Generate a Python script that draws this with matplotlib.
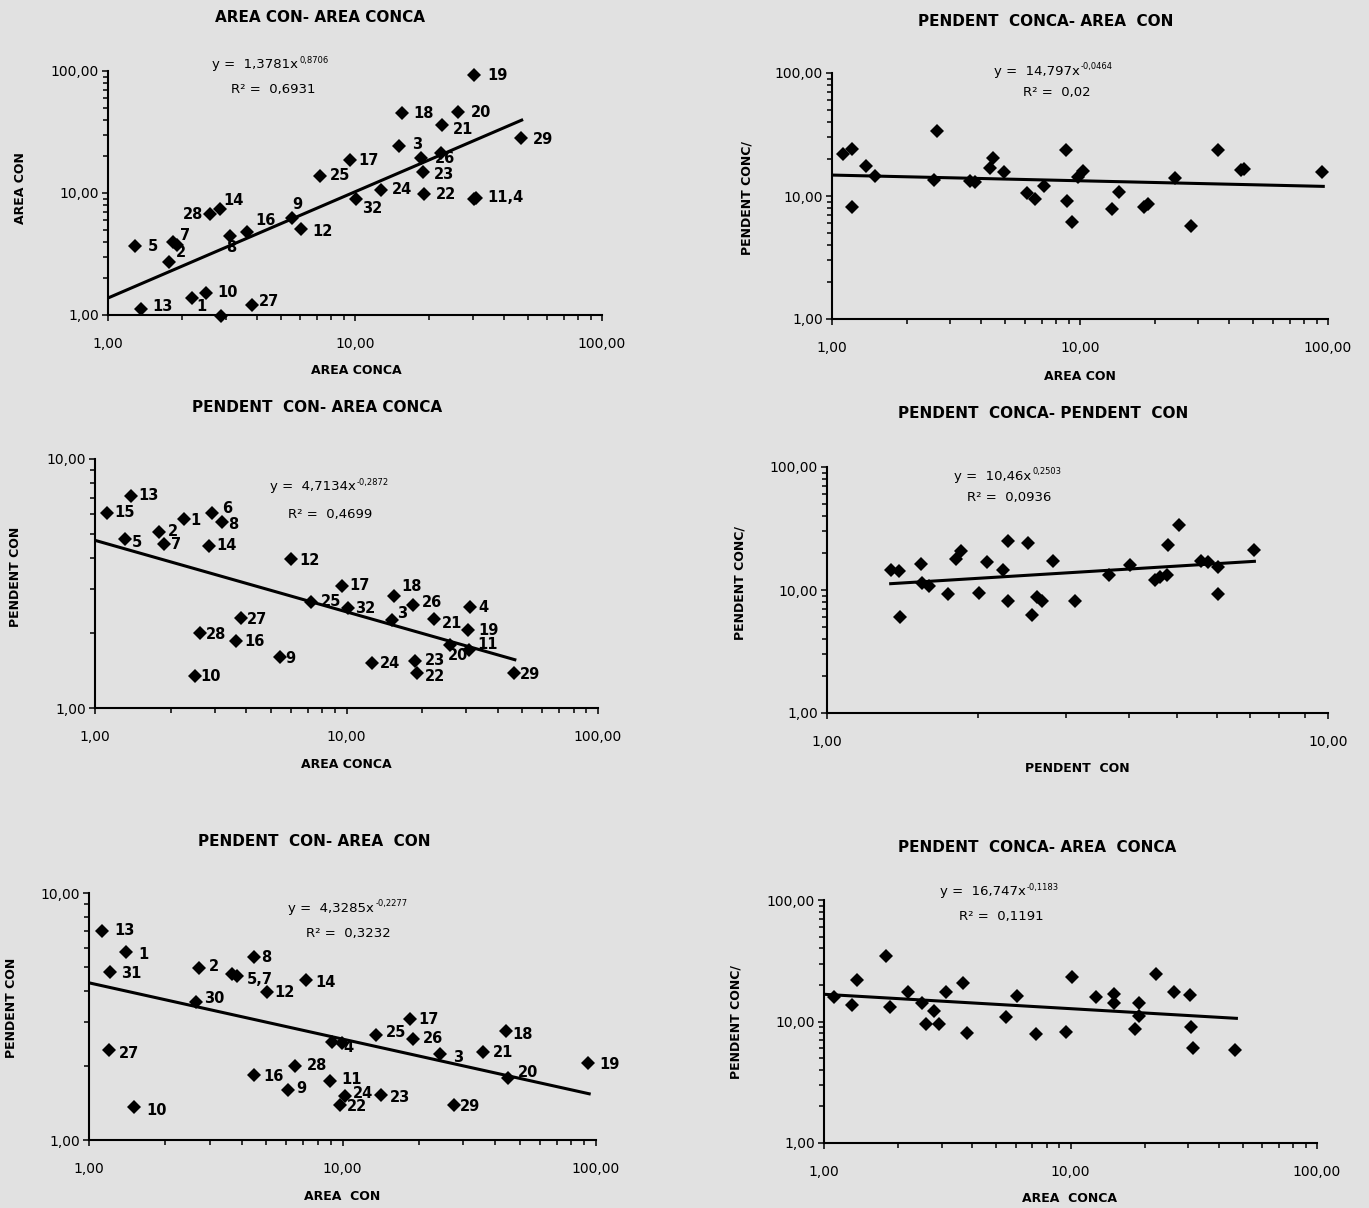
import numpy as np
import matplotlib.pyplot as plt
from matplotlib.ticker import FuncFormatter, LogLocator, NullFormatter

W, H = 1369, 1208
BG = '#e1e1e1'

# --- AREA CON vs AREA CONCA (top left) ---
tl_labels = ["19", "18", "20", "21", "3", "29", "26", "", "23", "17", "25", "24", "22",
             "11,4", "", "32", "14", "28", "9", "12", "16", "8", "5", "7", "", "2",
             "13", "1", "10", "27", ""]
tl_x = [30.4, 15.5, 26.2, 22.4, 15.1, 46.9, 18.5, 22.3, 18.9, 9.56, 7.24, 12.8, 19.1,
        30.8, 30.4, 10.05, 2.84, 2.59, 5.54, 6.04, 3.64, 3.12, 1.29, 1.84, 1.90, 1.77,
        1.36, 2.18, 2.49, 3.82, 2.88]
tl_y = [92.7, 45.0, 45.8, 36.1, 24.4, 28.1, 19.2, 21.2, 14.8, 18.6, 13.9, 10.6, 9.8,
        9.15, 8.9, 8.88, 7.35, 6.69, 6.2, 5.04, 4.76, 4.47, 3.70, 3.99, 3.75, 2.73,
        1.13, 1.39, 1.52, 1.21, 0.98]
tl_fit = (1.3781, 0.8706, 0.6931)
tl_trend = (1.0, 47.3)

# --- PENDENT CON vs AREA CONCA (middle left) ---
ml_labels = ["15", "13", "1", "6", "8", "2", "5", "7", "14", "12", "17", "18", "25", "26",
             "32", "4", "3", "21", "27", "19", "28", "16", "20", "11", "9", "24", "23",
             "22", "10", "29"]
ml_x = [1.12, 1.39, 2.25, 2.93, 3.19, 1.79, 1.32, 1.88, 2.85, 6.04, 9.63, 15.4, 7.23, 18.4,
        10.1, 31.1, 15.1, 22.2, 3.8, 30.4, 2.61, 3.64, 25.9, 30.7, 5.44, 12.6, 18.8,
        19.0, 2.5, 46.4]
ml_y = [6.07, 7.1, 5.75, 6.07, 5.57, 5.07, 4.79, 4.57, 4.49, 3.97, 3.1, 2.81, 2.67, 2.6,
        2.51, 2.54, 2.26, 2.27, 2.3, 2.06, 2.01, 1.85, 1.79, 1.71, 1.6, 1.52, 1.55,
        1.38, 1.35, 1.38]
ml_fit = (4.7134, -0.2872, 0.4699)
ml_trend = (1.0, 46.7)

# --- PENDENT CON vs AREA CON (bottom left) ---
bl_labels = ["13", "1", "31", "2", "8", "", "5,7", "14", "12", "30", "17", "18", "25", "26",
             "", "4", "27", "3", "21", "19", "28", "16", "20", "11", "9", "24", "23",
             "22", "29", "10"]
bl_x = [1.13, 1.40, 1.21, 2.71, 4.46, 3.66, 3.83, 7.21, 5.03, 2.64, 18.4, 44.2, 13.6, 19.0,
        9.06, 9.93, 1.2, 24.2, 35.8, 92.8, 6.52, 4.49, 45.0, 8.93, 6.1, 10.2, 14.2,
        9.78, 27.6, 1.51]
bl_y = [7.03, 5.75, 4.77, 4.97, 5.49, 4.70, 4.61, 4.44, 3.98, 3.61, 3.08, 2.75, 2.66, 2.57,
        2.50, 2.48, 2.31, 2.22, 2.27, 2.05, 2.0, 1.83, 1.79, 1.73, 1.59, 1.51, 1.52,
        1.39, 1.38, 1.36]
bl_fit = (4.3285, -0.2277, 0.3232)
bl_trend = (1.0, 94.0)

# --- PENDENT CONCA vs AREA CON (top right) ---
tr_x = [1.11, 1.2, 1.2, 1.37, 1.49, 2.65, 2.58, 3.61, 3.77, 4.47, 4.35, 4.95, 6.11, 6.56,
        7.13, 8.76, 8.83, 9.29, 9.79, 10.3, 13.5, 14.4, 18.2, 18.8, 24.1, 28.1, 36.0,
        44.4, 45.8, 94.6]
tr_y = [22.1, 24.0, 8.17, 17.6, 14.5, 33.8, 13.4, 13.3, 12.9, 20.5, 17.0, 15.8, 10.6, 9.43,
        12.0, 23.6, 9.14, 6.17, 14.3, 15.9, 7.87, 10.8, 8.12, 8.53, 14.0, 5.73, 23.6,
        16.2, 16.7, 15.7]
tr_fit = (14.797, -0.0464, 0.02)
tr_trend = (1.0, 95.7)

# --- PENDENT CONCA vs PENDENT CON (middle right) ---
mr_x = [1.34, 1.39, 1.40, 1.54, 1.55, 1.60, 1.74, 1.81, 1.85, 2.01, 2.09, 2.25, 2.30, 2.30,
        2.52, 2.56, 2.63, 2.69, 2.83, 3.13, 3.66, 4.02, 4.51, 4.61, 4.77, 4.80, 5.04,
        5.58, 5.75, 6.04, 6.02, 7.11]
mr_y = [14.6, 14.3, 6.0, 16.4, 11.3, 10.8, 9.34, 17.8, 20.7, 9.52, 16.8, 14.6, 24.9, 8.09,
        24.3, 6.22, 8.77, 8.09, 17.1, 8.14, 13.3, 15.9, 12.0, 12.8, 13.2, 23.2, 33.6,
        17.1, 17.0, 15.4, 9.34, 21.3]
mr_fit = (10.46, 0.2503, 0.0936)
mr_trend = (1.34, 7.13)

# --- PENDENT CONCA vs AREA CONCA (bottom right) ---
br_x = [1.1, 1.3, 1.36, 1.79, 1.86, 2.2, 2.49, 2.6, 2.8, 2.92, 3.12, 3.67, 3.81, 5.47, 6.04,
        7.23, 9.55, 10.1, 12.7, 15.0, 15.0, 18.3, 19.0, 19.0, 22.3, 26.2, 30.4, 30.7,
        31.3, 46.7]
br_y = [15.8, 13.6, 22.0, 34.6, 13.2, 17.4, 14.3, 9.57, 12.2, 9.57, 17.4, 20.6, 8.02, 10.9,
        16.2, 7.96, 8.17, 23.4, 15.9, 16.8, 14.2, 8.65, 14.2, 11.0, 24.6, 17.4, 16.4,
        9.04, 6.08, 5.78]
br_fit = (16.747, -0.1183, 0.1191)
br_trend = (1.0, 47.1)

# label offsets in pixels (dx right, dy down) from the marker centre
tl_offsets = {"19": (13.5, 0), "18": (11, 0), "20": (12.4, 0), "21": (11, 4.3), "3": (12.7, -1.4),
              "29": (12, 1.7), "26": (14, 0), "23": (10.7, 2.7), "17": (8, 0), "25": (9.4, 0),
              "24": (10, 0), "22": (11.7, 0), "11,4": (11.7, 0), "32": (6.5, 9), "14": (3.3, -9.3),
              "28": (-27, 0), "9": (0.6, -14), "12": (11.3, 1.7), "16": (8.3, -11.6),
              "8": (-4, 11.6), "5": (12.3, 1), "7": (6.7, -5.7), "2": (6.7, -9),
              "13": (11, -2.3), "1": (4.3, 9), "10": (11, 0), "27": (7.3, -3.3)}
ml_offsets = {"15": (7.3, 0), "13": (7, -1), "1": (7, 1.7), "6": (10, -4.3), "8": (6, 2.7),
              "2": (9, -1), "5": (6, 4), "7": (7, 1.3), "14": (7, 0), "12": (7.8, 2),
              "17": (6.5, 0), "18": (7.3, -10), "25": (9.4, 0), "26": (8.6, -1.7), "32": (7.8, 0),
              "4": (7.8, 0), "3": (6, -6), "21": (8, 4), "27": (6, 1.7), "19": (10, 0.7),
              "28": (6.5, 2.3), "16": (7.8, 0), "20": (-3, 10), "11": (8, -5), "9": (5.7, 1),
              "24": (8, 0.7), "23": (9, 0), "22": (7.8, 3), "10": (5.3, 0.7), "29": (6, 1)}
bl_offsets = {"13": (11.4, 0), "1": (12.6, 1.7), "31": (11.4, 1), "2": (10, -1.3), "8": (7.8, 0),
              "5,7": (10, 3.3), "14": (8.6, 2.7), "12": (7.3, 1), "30": (8, -4), "17": (9, 0),
              "18": (6, 2.7), "25": (10, -2.3), "26": (10, 0), "4": (2, 5), "27": (10, 3.3),
              "3": (13.5, 3), "21": (10, 0), "19": (12, 2), "28": (11, 0), "16": (9, 1),
              "20": (10, -5.3), "11": (11.7, -1.7), "9": (8.6, -1.7), "24": (8.3, -2.3),
              "23": (9, 2.3), "22": (6.7, 1.7), "29": (5.7, 0.7), "10": (12, 3.3)}

# layout, in pixels of the 1369x1208 picture
PANELS = [
    dict(x=tl_x, y=tl_y, labels=tl_labels, offsets=tl_offsets, fit=tl_fit, trend=tl_trend,
         box=(108, 602, 71, 315), xlim=(1, 100), ylim=(1, 100),
         title=("AREA CON- AREA CONCA", 320, 17), xlabel=("AREA CONCA", 356, 370),
         ylabel=("AREA CON", 20, 188), eq=(0.211, 1.025), r2=(0.249, 0.926)),
    dict(x=tr_x, y=tr_y, labels=None, offsets={}, fit=tr_fit, trend=tr_trend,
         box=(832, 1328, 73, 319), xlim=(1, 100), ylim=(1, 100),
         title=("PENDENT  CONCA- AREA  CON", 1046, 22), xlabel=("AREA CON", 1080, 376),
         ylabel=("PENDENT CONC/", 747, 198), eq=(0.327, 1.008), r2=(0.385, 0.919)),
    dict(x=ml_x, y=ml_y, labels=ml_labels, offsets=ml_offsets, fit=ml_fit, trend=ml_trend,
         box=(95, 598, 459, 708), xlim=(1, 100), ylim=(1, 10),
         title=("PENDENT  CON- AREA CONCA", 317, 407), xlabel=("AREA CONCA", 346, 764),
         ylabel=("PENDENT CON", 15.5, 577), eq=(0.348, 0.888), r2=(0.384, 0.779)),
    dict(x=mr_x, y=mr_y, labels=None, offsets={}, fit=mr_fit, trend=mr_trend,
         box=(827, 1328, 467, 713), xlim=(1, 10), ylim=(1, 100),
         title=("PENDENT  CONCA- PENDENT  CON", 1043, 413), xlabel=("PENDENT  CON", 1077, 768),
         ylabel=("PENDENT CONC/", 740, 583), eq=(0.253, 0.963), r2=(0.279, 0.878)),
    dict(x=bl_x, y=bl_y, labels=bl_labels, offsets=bl_offsets, fit=bl_fit, trend=bl_trend,
         box=(89, 596, 893, 1140), xlim=(1, 100), ylim=(1, 10),
         title=("PENDENT  CON- AREA  CON", 314, 842), xlabel=("AREA  CON", 342, 1196),
         ylabel=("PENDENT CON", 12, 1008), eq=(0.393, 0.939), r2=(0.428, 0.838)),
    dict(x=br_x, y=br_y, labels=None, offsets={}, fit=br_fit, trend=br_trend,
         box=(824, 1317, 900, 1143), xlim=(1, 100), ylim=(1, 100),
         title=("PENDENT  CONCA- AREA  CONCA", 1037, 848), xlabel=("AREA  CONCA", 1070, 1199),
         ylabel=("PENDENT CONC/", 736, 1022), eq=(0.235, 1.033), r2=(0.274, 0.934)),
]


def comma(v):
    return str(v).replace('.', ',')


def fig_xy(px, py):
    return px / W, 1 - py / H


def draw_panel(fig, p):
    left, right, top, bottom = p['box']
    ax = fig.add_axes([left / W, 1 - bottom / H, (right - left) / W, (bottom - top) / H])
    ax.set_facecolor('none')
    ax.set_xscale('log')
    ax.set_yscale('log')
    ax.set_xlim(*p['xlim'])
    ax.set_ylim(*p['ylim'])

    for axis in (ax.xaxis, ax.yaxis):
        axis.set_major_locator(LogLocator(base=10))
        axis.set_minor_locator(LogLocator(base=10, subs=np.arange(2, 10), numticks=20))
        axis.set_major_formatter(FuncFormatter(lambda v, _: f"{v:.2f}".replace('.', ',')))
        axis.set_minor_formatter(NullFormatter())
    ax.tick_params(which='both', direction='out', color='black', width=1.1, labelsize=10)
    ax.tick_params(which='major', length=4.5)
    ax.tick_params(which='minor', length=3.5)
    ax.tick_params(axis='x', pad=11)
    ax.tick_params(axis='y', pad=2)
    for side in ('top', 'right'):
        ax.spines[side].set_visible(False)
    for side in ('left', 'bottom'):
        ax.spines[side].set_linewidth(1.5)

    a, b, r2 = p['fit']
    tx = np.geomspace(p['trend'][0], p['trend'][1], 60)
    ax.plot(tx, a * tx ** b, color='black', lw=2.2, zorder=2)
    ax.plot(p['x'], p['y'], ls='none', marker='D', ms=7.2, mew=0, color='black',
            clip_on=False, zorder=3)

    if p['labels']:
        for x, y, lab in zip(p['x'], p['y'], p['labels']):
            if not lab:
                continue
            dx, dy = p['offsets'].get(lab, (10, 0))
            ax.annotate(lab, (x, y), xytext=(dx, -dy), textcoords='offset pixels',
                        ha='left', va='center', fontsize=10.5, fontweight='bold',
                        annotation_clip=False, zorder=4)

    t = ax.text(p['eq'][0], p['eq'][1], f"y =  {comma(a)}x", transform=ax.transAxes,
                ha='left', va='center', fontsize=9.5)
    ax.annotate(comma(b), xy=(1, 1), xycoords=t, xytext=(1, -2), textcoords='offset pixels',
                ha='left', va='center', fontsize=6)
    ax.text(p['r2'][0], p['r2'][1], f"R² =  {comma(r2)}", transform=ax.transAxes,
            ha='left', va='center', fontsize=9.5)

    s, x, y = p['title']
    fig.text(*fig_xy(x, y), s, ha='center', va='center', fontsize=11, fontweight='bold')
    s, x, y = p['xlabel']
    fig.text(*fig_xy(x, y), s, ha='center', va='center', fontsize=9, fontweight='bold')
    s, x, y = p['ylabel']
    fig.text(*fig_xy(x, y), s, ha='center', va='center', fontsize=9, fontweight='bold',
             rotation=90)
    return ax


def main():
    fig = plt.figure(figsize=(W / 100, H / 100), dpi=100)
    fig.patch.set_facecolor(BG)
    for p in PANELS:
        draw_panel(fig, p)
    fig.savefig("out.png", dpi=100, facecolor=BG)


if __name__ == "__main__":
    main()
